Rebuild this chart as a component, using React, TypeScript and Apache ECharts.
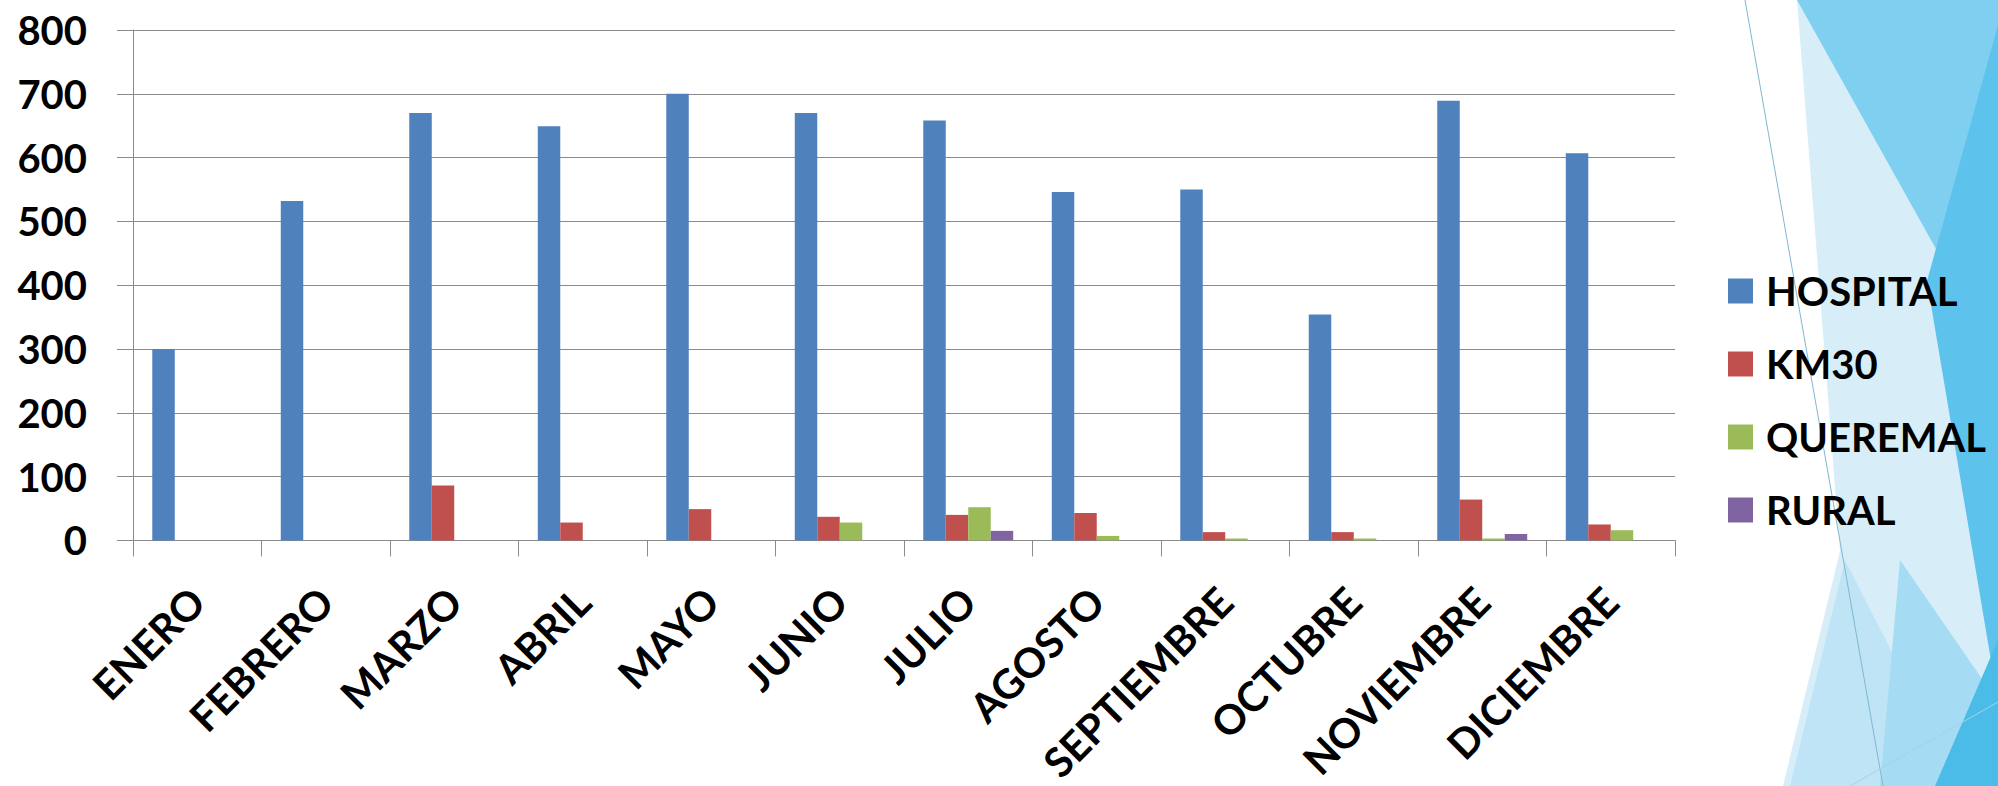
import React, { useEffect, useRef } from "react";
import * as echarts from "echarts";

const months = ["ENERO", "FEBRERO", "MARZO", "ABRIL", "MAYO", "JUNIO", "JULIO", "AGOSTO", "SEPTIEMBRE", "OCTUBRE", "NOVIEMBRE", "DICIEMBRE"];
const hospital = [300, 532, 670, 649, 700, 670, 658, 546, 550, 354, 689, 607];
const km30 = [0, 0, 86, 28, 49, 37, 40, 43, 13, 13, 64, 25];
const queremal = [0, 0, 0, 0, 0, 28, 52, 7, 3, 3, 3, 16];
const rural = [0, 0, 0, 0, 0, 0, 15, 0, 0, 0, 10, 0];

const seriesNames = ["HOSPITAL", "KM30", "QUEREMAL", "RURAL"];
const seriesColors = ["#4F81BD", "#C0504D", "#9BBB59", "#8064A2"];
const seriesData = [hospital, km30, queremal, rural];

const yMin = 0;
const yMax = 800;
const yStep = 100;

const FONT = "Lato";

export default function App() {
  const ref = useRef<HTMLDivElement>(null);

  useEffect(() => {
    if (!ref.current) return;
    const chart = echarts.init(ref.current, undefined, { renderer: "svg" });
    const gray = "#8a8a8a";
    chart.setOption({
      animation: false,
      backgroundColor: "#ffffff",
      grid: { left: 133, top: 30, width: 1542, height: 516, containLabel: false },
      legend: {
        orient: "vertical",
        left: 1723,
        top: 266,
        itemWidth: 25,
        itemHeight: 25,
        itemGap: 33,
        icon: "rect",
        data: seriesNames,
        textStyle: {
          fontFamily: FONT,
          fontWeight: "bold",
          fontSize: 40,
          lineHeight: 40,
          color: "#000",
          padding: [0, 0, 0, 8],
        },
      },
      xAxis: {
        type: "category",
        data: months,
        boundaryGap: true,
        axisLine: { show: true, lineStyle: { color: gray, width: 1 } },
        axisTick: { show: true, length: 16, alignWithLabel: false, lineStyle: { color: gray } },
        axisLabel: {
          rotate: 45,
          interval: 0,
          margin: 54,
          fontFamily: FONT,
          fontWeight: "bold",
          fontSize: 41,
          color: "#000",
        },
        splitLine: { show: false },
      },
      yAxis: {
        type: "value",
        min: yMin,
        max: yMax,
        interval: yStep,
        axisLine: { show: true, lineStyle: { color: gray, width: 1 } },
        axisTick: { show: true, length: 16, lineStyle: { color: gray } },
        axisLabel: {
          margin: 46,
          fontFamily: FONT,
          fontWeight: "bold",
          fontSize: 40,
          color: "#000",
        },
        splitLine: { show: true, lineStyle: { color: gray, width: 1 } },
      },
      graphic: {
        elements: [
          {
            type: "polygon",
            z: -10,
            shape: { points: [[1797, 0], [1998, 0], [1998, 786], [1783, 786], [1840, 551]] },
            style: { fill: "#d7eef9" },
          },
          {
            type: "polygon",
            z: -9,
            shape: { points: [[1790, 786], [1845, 560], [1960, 786]] },
            style: { fill: "#bfe4f5" },
          },
          {
            type: "polygon",
            z: -9,
            shape: { points: [[1900, 560], [1998, 702], [1998, 786], [1880, 786]] },
            style: { fill: "#a6dcf3" },
          },
          {
            type: "polygon",
            z: -8,
            shape: { points: [[1797, 0], [1998, 0], [1998, 360]] },
            style: { fill: "#7fcff0" },
          },
          {
            type: "polygon",
            z: -7,
            shape: { points: [[1998, 25], [1927, 281], [1998, 702]] },
            style: { fill: "#5ec3ec" },
          },
          {
            type: "polygon",
            z: -7,
            shape: { points: [[1998, 640], [1935, 786], [1998, 786]] },
            style: { fill: "#4bbbe8" },
          },
          {
            type: "line",
            z: -6,
            shape: { x1: 1745, y1: 0, x2: 1883, y2: 786 },
            style: { stroke: "#7fb7d4", lineWidth: 1 },
          },
          {
            type: "line",
            z: -6,
            shape: { x1: 1850, y1: 786, x2: 1998, y2: 702 },
            style: { stroke: "#9fd3ea", lineWidth: 1 },
          },
        ],
      },
      series: seriesNames.map((name, i) => ({
        name,
        type: "bar",
        data: seriesData[i],
        barGap: "0%",
        barCategoryGap: "30%",
        itemStyle: { color: seriesColors[i] },
      })),
    });
    return () => chart.dispose();
  }, []);

  return (
    <div
      ref={ref}
      style={{ position: "fixed", left: 0, top: 0, width: 1998, height: 786 }}
    />
  );
}
